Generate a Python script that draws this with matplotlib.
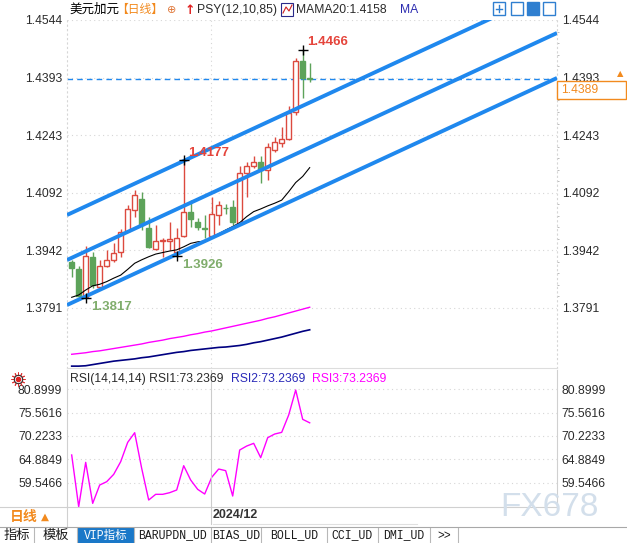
import numpy as np
import matplotlib
matplotlib.use('Agg')
import matplotlib.pyplot as plt
from matplotlib.patches import Rectangle
from matplotlib.lines import Line2D

plt.rcParams['font.family'] = ['Liberation Sans', 'Noto Sans CJK SC', 'DejaVu Sans']

W, H = 627, 543

# daily candles, USD/CAD, oldest first
opens = [1.3911, 1.3892, 1.3821, 1.3925, 1.3847, 1.3902, 1.3917, 1.3937, 1.3993, 1.4047,
         1.4075, 1.3999, 1.3945, 1.3965, 1.3967, 1.3937, 1.3978, 1.4043, 1.4017, 1.3999,
         1.3978, 1.4034, 1.4053, 1.4056, 1.4012, 1.4143, 1.4161, 1.4172, 1.4152, 1.4204,
         1.4223, 1.4232, 1.4304, 1.4437, 1.4392]
highs = [1.3917, 1.3901, 1.3953, 1.3938, 1.3917, 1.3943, 1.3960, 1.3997, 1.4060, 1.4100,
         1.4095, 1.4030, 1.4008, 1.3973, 1.4015, 1.3999, 1.4177, 1.4073, 1.4026, 1.4034,
         1.4082, 1.4072, 1.4062, 1.4073, 1.4161, 1.4174, 1.4189, 1.4189, 1.4222, 1.4239,
         1.4265, 1.4318, 1.4444, 1.4466, 1.4431]
lows = [1.3873, 1.3819, 1.3817, 1.3843, 1.3843, 1.3897, 1.3912, 1.3925, 1.3991, 1.4030,
        1.3995, 1.3947, 1.3943, 1.3925, 1.3943, 1.3926, 1.3976, 1.4004, 1.3995, 1.3973,
        1.3973, 1.4008, 1.4036, 1.4008, 1.4008, 1.4082, 1.4156, 1.4117, 1.4126, 1.4200,
        1.4213, 1.4230, 1.4296, 1.4339, 1.4383]
closes = [1.3895, 1.3822, 1.3928, 1.3851, 1.3902, 1.3917, 1.3934, 1.3989, 1.4049, 1.4087,
          1.4008, 1.3950, 1.3966, 1.3969, 1.3971, 1.3974, 1.4043, 1.4023, 1.4004, 1.3997,
          1.4036, 1.4059, 1.4052, 1.4017, 1.4145, 1.4161, 1.4172, 1.4152, 1.4211, 1.4226,
          1.4232, 1.4302, 1.4438, 1.4392, 1.4389]

ma20 = [1.3819, 1.3825, 1.3838, 1.3849, 1.3853, 1.3860, 1.3869, 1.3877, 1.3892, 1.3908,
        1.3917, 1.3925, 1.3932, 1.3936, 1.3940, 1.3943, 1.3951, 1.3960, 1.3964, 1.3966,
        1.3976, 1.3985, 1.3995, 1.4004, 1.4014, 1.4030, 1.4043, 1.4050, 1.4058, 1.4065,
        1.4073, 1.4095, 1.4119, 1.4135, 1.4158]
ma_pink = [1.3670, 1.3672, 1.3674, 1.3677, 1.3679, 1.3682, 1.3685, 1.3688, 1.3691, 1.3694,
           1.3697, 1.3701, 1.3704, 1.3707, 1.3711, 1.3714, 1.3717, 1.3721, 1.3724, 1.3728,
           1.3731, 1.3735, 1.3739, 1.3743, 1.3747, 1.3751, 1.3755, 1.3759, 1.3764, 1.3768,
           1.3773, 1.3778, 1.3783, 1.3788, 1.3793]
ma_navy = [1.3639, 1.3639, 1.3640, 1.3643, 1.3646, 1.3649, 1.3652, 1.3654, 1.3656, 1.3658,
           1.3661, 1.3663, 1.3666, 1.3669, 1.3672, 1.3675, 1.3677, 1.3680, 1.3682, 1.3684,
           1.3686, 1.3688, 1.3689, 1.3691, 1.3693, 1.3696, 1.3700, 1.3703, 1.3707, 1.3711,
           1.3715, 1.3720, 1.3725, 1.3730, 1.3734]

# price channel: (candle index, price) at both ends
channel = [((0.33, 1.40342), (70.33, 1.46278)),
           ((0.33, 1.39165), (70.33, 1.45100)),
           ((0.33, 1.37988), (70.33, 1.43924))]

rsi = [65.87, 54.04, 64.19, 54.80, 59.00, 59.76, 61.44, 64.34, 68.76, 70.97,
       62.81, 55.57, 56.87, 56.87, 57.25, 57.86, 63.42, 60.14, 58.01, 56.94,
       60.76, 62.66, 62.28, 56.48, 67.01, 67.92, 68.54, 65.26, 69.83, 70.67,
       71.05, 75.02, 80.74, 74.03, 73.2369]

price_ticks = [1.4544, 1.4393, 1.4243, 1.4092, 1.3942, 1.3791]
rsi_ticks = [80.8999, 75.5616, 70.2233, 64.8849, 59.5466]
month_start = 20.9   # boundary before first December candle
month_label = '2024/12'

tabs = ['指标', '模板', 'VIP指标', 'BARUPDN_UD', 'BIAS_UD', 'BOLL_UD', 'CCI_UD', 'DMI_UD', '>>']
tab_edges = [0, 34, 77, 134, 211, 261, 327, 378, 430, 458]

RED = '#dc4a3f'
GREEN = '#5da35a'
BLUE = '#1f88ee'
GRID = '#d6d6d6'
TXT = '#2b2b2b'
ORANGE = '#f28a1e'


def box(x0, y0, x1, y1):
    return [x0 / W, 1 - y1 / H, (x1 - x0) / W, (y1 - y0) / H]


def fx(x):
    return x / W


def fy(y):
    return 1 - y / H


fig = plt.figure(figsize=(W / 100, H / 100), dpi=100)
fig.patch.set_facecolor('white')

# ---- price panel ----
ax = fig.add_axes(box(67, 20, 557, 368))
idx = np.arange(1, len(closes) + 1)

for i, o, h, l, c in zip(idx, opens, highs, lows, closes):
    up = c >= o
    col = RED if up else GREEN
    top, bot = max(o, c), min(o, c)
    ax.vlines(i, top, h, color=col, lw=1, zorder=3)
    ax.vlines(i, l, bot, color=col, lw=1, zorder=3)
    ax.add_patch(Rectangle((i - 0.34, bot), 0.68, max(top - bot, 0.00004),
                           facecolor='white' if up else col, edgecolor=col, lw=1, zorder=3))

ax.plot(idx, ma20, color='black', lw=0.8, zorder=3)
ax.plot(idx, ma_pink, color='#ff00ff', lw=1, zorder=3)
ax.plot(idx, ma_navy, color='#000080', lw=1.2, zorder=3)

for (x0, y0), (x1, y1) in channel:
    ax.plot([x0, x1], [y0, y1], color=BLUE, lw=2.8, zorder=4, solid_capstyle='butt')

ax.axhline(closes[-1], color=BLUE, lw=1, ls=(0, (4, 3)), zorder=2)

# extreme markers
for i, side in [(3, 'low'), (16, 'low'), (17, 'high'), (34, 'high')]:
    v = lows[i - 1] if side == 'low' else highs[i - 1]
    ax.plot(i, v, marker='+', ms=7, mew=1, color='black', zorder=5)
    if side == 'high':
        ax.annotate(f'{v:.4f}', (i, v), xytext=(3, 5.5), textcoords='offset points',
                    ha='left', va='center', color='#e5453c', fontsize=9.5, fontweight='bold', zorder=6)
    else:
        ax.annotate(f'{v:.4f}', (i, v), xytext=(4, -6.5), textcoords='offset points',
                    ha='left', va='center', color='#80ad6c', fontsize=9.5, fontweight='bold', zorder=6)

ax.set_yticks(price_ticks)
ax.set_yticklabels([f'{t:.4f}' for t in price_ticks])
ax.set_yticks([t + k * 0.00302 for t in price_ticks[1:] for k in range(1, 5)], minor=True)
ax.tick_params(axis='y', which='major', length=0, labelleft=True, labelright=True,
               labelsize=8.7, labelcolor=TXT, pad=3.5)
ax.tick_params(axis='y', which='minor', length=1.5, color='#b0b0b0', left=False, right=True)
ax.tick_params(axis='x', which='both', bottom=False, labelbottom=False)
ax.set_xlim(0.33, 70.33)
ax.set_ylim(1.4544 - 348 / 3824.7, 1.4544)
ax.grid(axis='y', which='major', color=GRID, ls=(0, (1, 3)), lw=0.8)
ax.axvline(month_start, color=GRID, ls=(0, (1, 3)), lw=0.8)
for s in ['left', 'right']:
    ax.spines[s].set_color(GRID)
    ax.spines[s].set_linestyle((0, (1, 3)))
ax.spines['top'].set_visible(False)
ax.spines['bottom'].set_color('#dddddd')

# ---- RSI panel ----
rax = fig.add_axes(box(67, 370, 557, 507))
rax.plot(idx, rsi, color='#ff00ff', lw=1)
rax.set_yticks(rsi_ticks)
rax.set_yticklabels([f'{t:.4f}' for t in rsi_ticks])
rax.tick_params(axis='y', length=0, labelleft=True, labelright=True, labelsize=8.7,
                labelcolor=TXT, pad=3.5)
rax.tick_params(axis='x', bottom=False, labelbottom=False)
rax.set_xlim(0.33, 70.33)
rax.set_ylim(53.97, 85.32)
rax.grid(axis='y', color=GRID, ls=(0, (1, 3)), lw=0.8)
rax.axvline(month_start, color='#cccccc', lw=0.8)
for s in ['left', 'right', 'bottom']:
    rax.spines[s].set_color('#d0d0d0')
rax.spines['top'].set_visible(False)

# ---- header row ----
hy = fy(10)
fig.text(fx(69), hy, '美元加元', fontsize=9, color='black', va='center')
fig.text(fx(116), hy, '【日线】', fontsize=8.5, color=ORANGE, va='center')
fig.text(fx(167), hy, '⊕', fontsize=8, color='#e0783a', va='center', family='DejaVu Sans')
fig.text(fx(185), hy, '↑', fontsize=9, color='#e02020', va='center', fontweight='bold', family='DejaVu Sans')
fig.text(fx(197), hy, 'PSY(12,10,85)', fontsize=8.7, color=TXT, va='center')
fig.add_artist(Rectangle((fx(281), fy(16)), 12 / W, 13 / H, transform=fig.transFigure,
                         facecolor='white', edgecolor='#2a2a8a', lw=0.8))
fig.add_artist(Line2D([fx(283), fx(286), fx(289), fx(292)], [fy(13), fy(7), fy(11), fy(5)],
                      transform=fig.transFigure, color='#d02020', lw=0.8))
fig.text(fx(296), hy, f'MAMA20:{ma20[-1]:.4f}', fontsize=8.7, color=TXT, va='center')
fig.text(fx(400), hy, 'MA', fontsize=8.7, color='#2b2bb0', va='center')
for k, x0 in enumerate([493, 511, 527, 543]):
    fig.add_artist(Rectangle((fx(x0), fy(15)), 12 / W, 13 / H, transform=fig.transFigure,
                             facecolor='#2f7fd0' if k == 2 else 'white', edgecolor='#2f7fd0', lw=1))
fig.add_artist(Line2D([fx(496), fx(502)], [fy(8.5), fy(8.5)], transform=fig.transFigure, color='#2f7fd0', lw=1))
fig.add_artist(Line2D([fx(499), fx(499)], [fy(5), fy(12)], transform=fig.transFigure, color='#2f7fd0', lw=1))

# current price box
fig.add_artist(Rectangle((fx(557), fy(99)), 69 / W, 18 / H, transform=fig.transFigure,
                         facecolor='white', edgecolor=ORANGE, lw=1))
fig.text(fx(561), fy(90), f'{closes[-1]:.4f}', fontsize=8.7, color=ORANGE, va='center')
fig.text(fx(620), fy(74), '▲', fontsize=6, color=ORANGE, va='center', ha='center', family='DejaVu Sans')

# RSI header
ry = fy(379)
fig.add_artist(Line2D([fx(18)], [ry], marker=(12, 2, 0), ms=10, color='#e03030', mew=0.7,
                      transform=fig.transFigure))
fig.add_artist(Line2D([fx(18)], [ry], marker='o', ms=6, mfc='white', mec='#303030', mew=0.8,
                      transform=fig.transFigure))
fig.add_artist(Line2D([fx(18)], [ry], marker='o', ms=3, color='#e02020', transform=fig.transFigure))
fig.text(fx(70), ry, f'RSI(14,14,14) RSI1:{rsi[-1]:.4f}', fontsize=8.7, color=TXT, va='center')
fig.text(fx(231), ry, f'RSI2:{rsi[-1]:.4f}', fontsize=8.7, color='#2a2ab8', va='center')
fig.text(fx(312), ry, f'RSI3:{rsi[-1]:.4f}', fontsize=8.7, color='#ff00ff', va='center')

# watermark
fig.text(fx(500), fy(507), 'FX678', fontsize=24, color='#d3dfeb', va='center', ha='left')

# date row
fig.add_artist(Line2D([0, fx(67)], [fy(507), fy(507)], transform=fig.transFigure, color='#d0d0d0', lw=0.8))
fig.add_artist(Line2D([fx(67), fx(67)], [fy(507), fy(527)], transform=fig.transFigure, color='#d0d0d0', lw=0.8))
fig.add_artist(Line2D([fx(211), fx(211)], [fy(507), fy(524)], transform=fig.transFigure, color='#cccccc', lw=0.8))
fig.add_artist(Line2D([fx(213), fx(417)], [fy(524), fy(524)], transform=fig.transFigure, color='#e0e0e0', lw=0.8))
fig.text(fx(10), fy(517), '日线', fontsize=10, color=ORANGE, va='center', fontweight='bold')
fig.text(fx(41), fy(517), '▲', fontsize=7.5, color=ORANGE, va='center', family='DejaVu Sans')
fig.text(fx(213), fy(515), month_label, fontsize=9, color='#333333', va='center', fontweight='bold')

# tab bar
fig.add_artist(Line2D([0, 1], [fy(527), fy(527)], transform=fig.transFigure, color='#a8a8a8', lw=0.8))
for k, name in enumerate(tabs):
    x0, x1 = tab_edges[k], tab_edges[k + 1]
    if name == 'VIP指标':
        fig.add_artist(Rectangle((fx(x0), 0), (x1 - x0) / W, 15.5 / H, transform=fig.transFigure,
                                 facecolor='#1a78c8', edgecolor='none'))
        col = 'white'
    else:
        col = '#1a1a1a'
    fam = ['Noto Sans CJK SC'] if name in ('指标', '模板') else ['Liberation Mono', 'Noto Sans CJK SC']
    fig.text(fx((x0 + x1) / 2), fy(535.5), name, fontsize=8.3 if fam[0] == 'Liberation Mono' else 9.5,
             color=col, ha='center', va='center', family=fam)
    fig.add_artist(Line2D([fx(x1), fx(x1)], [fy(528), 0], transform=fig.transFigure, color='#b8b8b8', lw=0.8))

fig.savefig('out.png', dpi=100, facecolor='white')
